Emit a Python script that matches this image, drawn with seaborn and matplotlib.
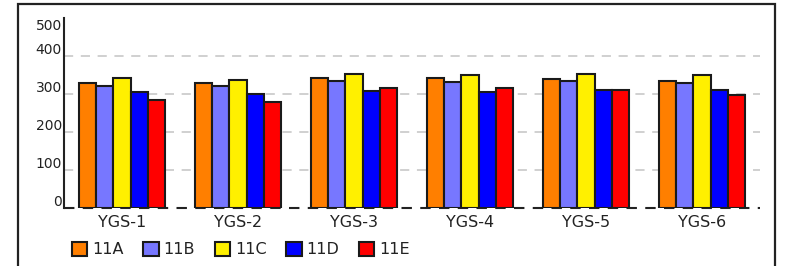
import numpy as np
import pandas as pd
import matplotlib
matplotlib.use("Agg")
import matplotlib.pyplot as plt
import matplotlib.transforms as mtransforms
from matplotlib.patches import Rectangle
import seaborn as sns

# data
groups = ["YGS-1", "YGS-2", "YGS-3", "YGS-4", "YGS-5", "YGS-6"]
classes = ["11A", "11B", "11C", "11D", "11E"]
s_11a = [330, 328, 341, 341, 340, 335]
s_11b = [321, 321, 335, 332, 334, 329]
s_11c = [342, 338, 352, 350, 353, 350]
s_11d = [304, 300, 308, 304, 311, 311]
s_11e = [283, 278, 317, 315, 311, 298]
y_ticks = [0, 100, 200, 300, 400, 500]

colors = ["#FF7F00", "#7777FF", "#FFF000", "#0000FF", "#FF0000"]

rows = []
for cls, vals in zip(classes, [s_11a, s_11b, s_11c, s_11d, s_11e]):
    for g, v in zip(groups, vals):
        rows.append({"group": g, "cls": cls, "value": v})
df = pd.DataFrame(rows)

sns.set_style("white")
plt.rcParams["font.family"] = ["DejaVu Sans"]

fig = plt.figure(figsize=(7.93, 2.66), dpi=100)
ax = fig.add_axes([64 / 793, 1 - 208 / 266, (760 - 64) / 793, (208 - 18) / 266])

sns.barplot(data=df, x="group", y="value", hue="cls", hue_order=classes,
            palette=colors, width=0.74, gap=0, edgecolor="#1a1a1a",
            linewidth=1.5, saturation=1, ax=ax, zorder=3, errorbar=None)

ax.set_xlim(-0.5, 5.5)
ax.set_ylim(0, 500)
ax.set_xlabel("")
ax.set_ylabel("")

# dashed grid lines
for t in y_ticks[1:-1]:
    ax.axhline(t, color="#c4c4c4", lw=1.1, dashes=(6, 5), zorder=1)
ax.axhline(0, color="#222222", lw=1.5, dashes=(5, 4), zorder=2, clip_on=False)

for s in ["top", "right", "bottom"]:
    ax.spines[s].set_visible(False)
ax.spines["left"].set_color("#222222")
ax.spines["left"].set_linewidth(1.5)

ax.tick_params(axis="x", length=0, pad=5, labelsize=11.5, labelcolor="#222222")
ax.set_yticks([])

# y tick labels sit a little above their lines
off_up = mtransforms.offset_copy(ax.get_yaxis_transform(), fig=fig, x=-2, y=2, units="dots")
off_top = mtransforms.offset_copy(ax.get_yaxis_transform(), fig=fig, x=-2, y=-1, units="dots")
for t in y_ticks:
    if t == y_ticks[-1]:
        ax.text(0, t, str(t), transform=off_top, ha="right", va="top",
                fontsize=10, color="#222222")
    else:
        ax.text(0, t, str(t), transform=off_up, ha="right", va="baseline",
                fontsize=10, color="#222222")

# legend below
sns.move_legend(ax, "center left", bbox_to_anchor=(72 / 793, 1 - 249.5 / 266),
                bbox_transform=fig.transFigure, ncol=5, frameon=False, title=None,
                fontsize=11.5, handlelength=0.95, handleheight=0.95,
                handletextpad=0.3, columnspacing=1.25, borderpad=0, borderaxespad=0)
for txt in ax.get_legend().get_texts():
    txt.set_color("#222222")

# outer frame
fig.patches.append(Rectangle((18 / 793, -0.1), (775 - 18) / 793, 1.1 - 4 / 266,
                             transform=fig.transFigure, fill=False,
                             edgecolor="#222222", lw=1.6, clip_on=False))

fig.savefig("out.png", dpi=100)
